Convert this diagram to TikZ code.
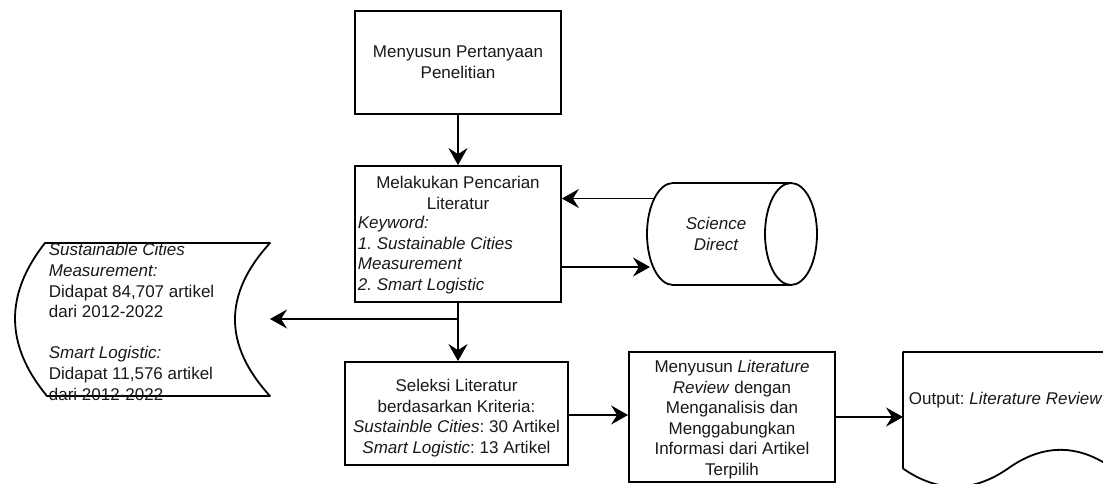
\documentclass[tikz,border=0pt]{standalone}
\usepackage{fontspec}
\setmainfont{Liberation Sans}
\usetikzlibrary{arrows.meta}
\newcommand{\dfont}{\fontsize{17}{20.6}\selectfont\frenchspacing}
\begin{document}
\begin{tikzpicture}[x=1pt,y=-1pt,
  line width=1.8pt,
  box/.style={draw, rectangle, inner sep=0pt, align=center, font=\dfont},
  txt/.style={inner sep=0pt, font=\dfont, text=black!90},
  arr/.style={-{Stealth[length=17pt,width=19pt,inset=6pt]}},
  shapeline/.style={line width=1.8pt, line join=round},
]
\useasboundingbox (0,0) rectangle (1103,483);
\clip (0,0) rectangle (1103,483);
\fill[white] (0,0) rectangle (1103,483);

% boxes
\node[box, minimum width=206pt, minimum height=103pt] (q) at (458,62.5) {};
\node[txt, align=center] (qT) at (458,62.5) {Menyusun Pertanyaan\\Penelitian};
\node[box, minimum width=206pt, minimum height=136pt] (search) at (458,234) {};
\node[txt, align=center] (searchT) at (458,193) {Melakukan Pencarian\\Literatur};
\node[txt, align=left, anchor=west] (searchK) at (357,255) {\textit{Keyword:}\\\textit{1. Sustainable Cities}\\\textit{Measurement}\\\textit{2. Smart Logistic}};

\node[box, minimum width=223pt, minimum height=103pt] (sel) at (456.5,413.5) {};
\node[txt, align=center] (selT) at (456.5,418) {Seleksi Literatur\\berdasarkan Kriteria:\\\textit{Sustainble Cities}: 30 Artikel\\\textit{Smart Logistic}: 13 Artikel};

\node[box, minimum width=206pt, minimum height=130pt] (rev) at (732,417) {};
\node[txt, align=center] (revT) at (732,419.5) {Menyusun \textit{Literature}\\\textit{Review} dengan\\Menganalisis dan\\Menggabungkan\\Informasi dari Artikel\\Terpilih};

% stored data shape (left)
\draw[shapeline] (45,243) -- (270,243) .. controls (223.3,294) and (223.3,345) .. (270,396) -- (47,396) .. controls (4.7,345) and (4.7,294) .. (45,243) -- cycle;
\node[txt, align=left, anchor=west] (found) at (48,322) {\textit{Sustainable Cities}\\\textit{Measurement:}\\Didapat 84,707 artikel\\dari 2012-2022\\[20.6pt]\textit{Smart Logistic:}\\Didapat 11,576 artikel\\dari 2012-2022};
\coordinate (foundR) at (270,319);

% cylinder (Science Direct)
\draw[shapeline] (673,183) -- (791,183) (673,285) -- (791,285);
\draw[shapeline] (791,234) ellipse [x radius=26, y radius=51];
\draw[shapeline] (673,183) arc[start angle=270, end angle=90, x radius=26, y radius=51];
\node[txt, font=\dfont\itshape, align=center] (sd) at (716,234) {Science\\Direct};
\coordinate (sdOut) at (655,198.5);
\coordinate (sdIn) at (650,267);

% document shape (output)
\draw[shapeline] (903,468.5) -- (903,352) -- (1113,352) -- (1113,468.5)
  .. controls (1078,443.6) and (1043,443.6) .. (1008,468.5)
  .. controls (973,492.8) and (938,492.8) .. (903,468.5);
\node[txt, anchor=west] (out) at (908,400) {Output: \textit{Literature Review}};
\coordinate (outL) at (903,417);

% connectors
\draw[arr] (q.south) -- (search.north);
\draw[arr] (sdOut) -- (sdOut -| search.east);
\draw[arr] (search.east |- sdIn) -- (sdIn);
\draw[arr] (search.south) -- (search.south |- sel.north);
\coordinate (junc) at (458,319);
\draw[arr] (junc) -- (foundR);
\draw[arr] (sel.east |- 0,415) -- (rev.west |- 0,415);
\draw[arr] (rev.east) -- (outL);
\end{tikzpicture}
\end{document}
